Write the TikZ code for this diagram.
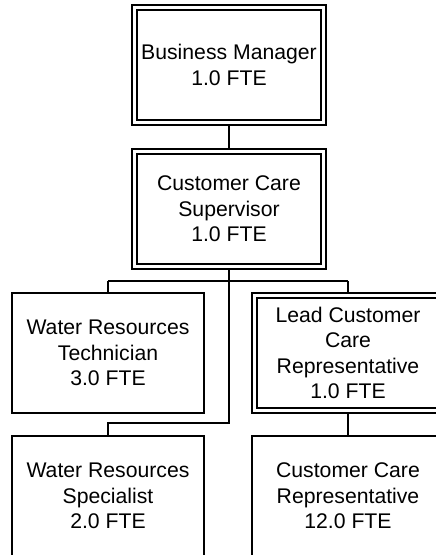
\documentclass[tikz,border=0pt]{standalone}
\usepackage{fontspec}
\setmainfont{Liberation Sans}
\begin{document}
\begin{tikzpicture}[x=1bp,y=-1bp,
  every node/.style={font=\fontsize{21.2bp}{25.5bp}\selectfont, align=center},
  posbox/.style={draw, line width=2bp, fill=white, minimum width=192bp,
    minimum height=120bp, inner sep=0pt},
  dblbox/.style={posbox, minimum width=194bp,
    path picture={\draw[line width=1.3bp]
      ([shift={(5bp,-5bp)}]path picture bounding box.north west) rectangle
      ([shift={(-5bp,5bp)}]path picture bounding box.south east);}},
  link/.style={draw, line width=1.3bp}]
\useasboundingbox[fill=white] (0,0) rectangle (436,555);

% connector bends
\coordinate (busL) at (108,281);
\coordinate (busR) at (348,281);
\coordinate (dropA) at (229,423);
\coordinate (dropB) at (108,423);

\node[dblbox] (bm) at (229,65) {Business Manager\\1.0 FTE};
\node[dblbox] (sup) at (229,209) {Customer Care\\Supervisor\\1.0 FTE};
\node[posbox] (tech) at (108,353) {Water Resources\\Technician\\3.0 FTE};
\node[dblbox, minimum width=192bp] (lead) at (348,353) {Lead Customer\\Care\\Representative\\1.0 FTE};
\node[posbox] (spec) at (108,496) {Water Resources\\Specialist\\2.0 FTE};
\node[posbox] (ccr) at (348,496) {Customer Care\\Representative\\12.0 FTE};

\path[link] (bm.south) -- (sup.north);
\path[link] (busL) -- (busR);
\path[link] (busL) -- (tech.north);
\path[link] (busR) -- (lead.north);
\path[link] (sup.south) -- (dropA) -- (dropB) -- (spec.north);
\path[link] (lead.south) -- (ccr.north);
\end{tikzpicture}
\end{document}
